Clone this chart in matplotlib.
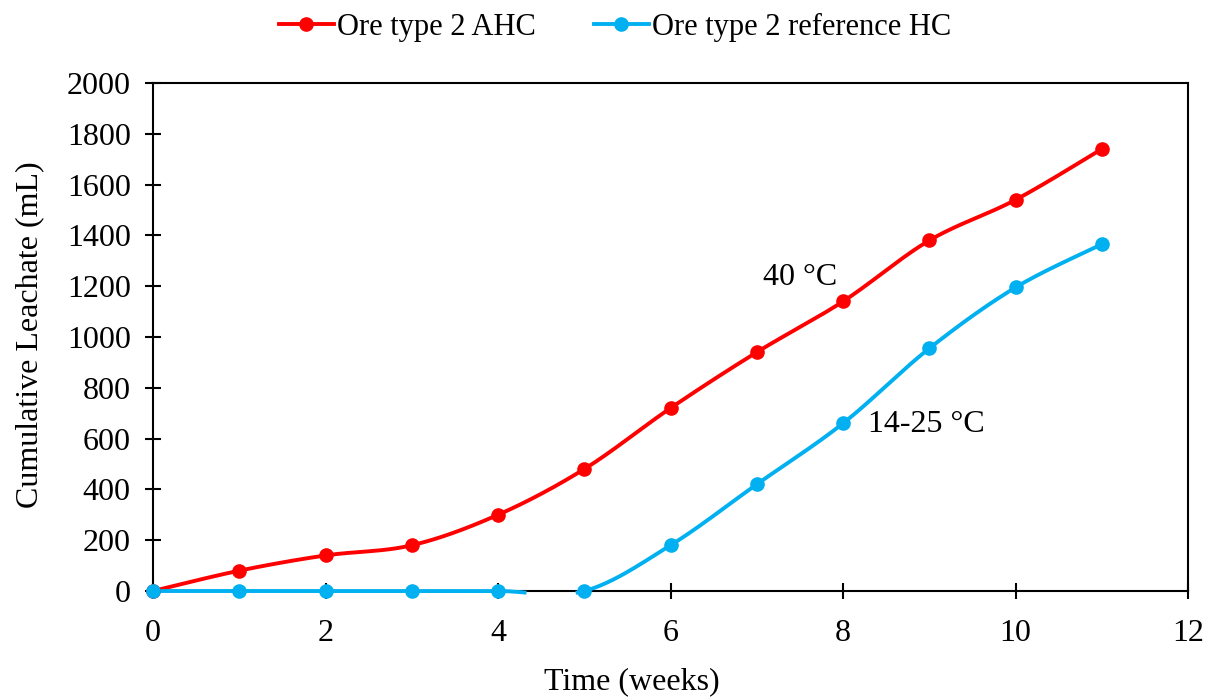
import matplotlib.pyplot as plt
import numpy as np

plt.rcParams['font.family'] = ['Liberation Serif', 'DejaVu Serif']

weeks = [0, 1, 2, 3, 4, 5, 6, 7, 8, 9, 10, 11]
ahc = [0, 80, 140, 180, 300, 480, 720, 940, 1140, 1380, 1540, 1740]
ref_hc = [0, 0, 0, 0, 0, 0, 180, 420, 660, 955, 1195, 1365]


def smooth(x, y, n=40):
    # Excel-style smoothed line: Catmull-Rom through Bezier segments
    x = np.asarray(x, float)
    y = np.asarray(y, float)
    px = np.concatenate([[x[0]], x, [x[-1]]])
    py = np.concatenate([[y[0]], y, [y[-1]]])
    xs, ys = [], []
    t = np.linspace(0, 1, n)
    for i in range(1, len(px) - 2):
        p0 = np.array([px[i], py[i]])
        p3 = np.array([px[i + 1], py[i + 1]])
        p1 = p0 + (np.array([px[i + 1], py[i + 1]]) - np.array([px[i - 1], py[i - 1]])) / 6
        p2 = p3 - (np.array([px[i + 2], py[i + 2]]) - np.array([px[i], py[i]])) / 6
        b = ((1 - t) ** 3)[:, None] * p0 + (3 * (1 - t) ** 2 * t)[:, None] * p1 \
            + (3 * (1 - t) * t ** 2)[:, None] * p2 + (t ** 3)[:, None] * p3
        xs.extend(b[:, 0])
        ys.extend(b[:, 1])
    return np.array(xs), np.array(ys)


fs = 23
fig = plt.figure(figsize=(12.07, 6.98), dpi=100)
ax = fig.add_axes([153 / 1207, 1 - 591 / 698, 1035 / 1207, 508 / 698])

for vals, col, lab in [(ahc, '#FF0000', 'Ore type 2 AHC'),
                       (ref_hc, '#00B0F0', 'Ore type 2 reference HC')]:
    sx, sy = smooth(weeks, vals)
    # the smoothed curve dips under 0 between weeks 4 and 5; hide that part
    sy = np.where(sy < -6, np.nan, sy)
    ax.plot(sx, sy, color=col, lw=2.8, zorder=5.5, clip_on=False)
    ax.plot(weeks, vals, 'o', color=col, ms=9.5, zorder=6, clip_on=False)
    ax.plot([], [], '-o', color=col, lw=2.8, ms=9.5, label=lab)

ax.set_xlim(0, 12)
ax.set_ylim(0, 2000)
ax.set_xticks(range(0, 13, 2))
ax.set_yticks(range(0, 2001, 200))
ax.tick_params(direction='inout', length=12, width=1.5, labelsize=fs)
ax.tick_params(axis='x', pad=14)
ax.tick_params(axis='y', pad=10)
for s in ax.spines.values():
    s.set_linewidth(1.5)
    s.set_zorder(5)

ax.set_xlabel('Time (weeks)', fontsize=fs)
ax.set_ylabel('Cumulative Leachate (mL)', fontsize=fs)
ax.xaxis.set_label_coords(0.463, -0.15)
ax.yaxis.set_label_coords(-0.105, 0.505)

ax.text(7.07, 1236, '40 °C', fontsize=fs, va='center', ha='left')
ax.text(8.29, 654, '14-25 °C', fontsize=fs, va='center', ha='left')

fig.legend(loc='center', bbox_to_anchor=(615 / 1207, 1 - 27 / 698), ncol=2,
           frameon=False, fontsize=22, handlelength=1.8, handletextpad=0.1,
           columnspacing=1.9)

fig.savefig('out.png', dpi=100)
